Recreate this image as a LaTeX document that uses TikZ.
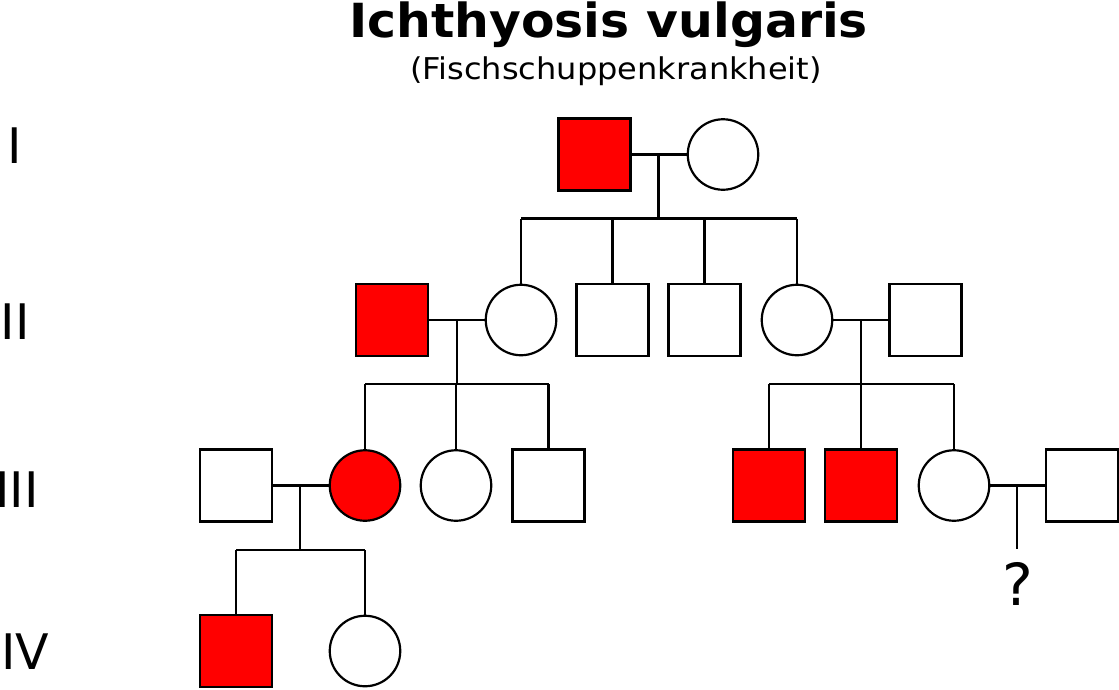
\documentclass[tikz,border=0pt]{standalone}
\usepackage{fontspec}
\usepackage{graphicx}
\setmainfont{DejaVu Sans}
\begin{document}
\begin{tikzpicture}[x=1pt,y=-1pt,
  male/.style={draw=black,line width=2.2pt,rectangle,minimum size=72pt,inner sep=0pt,fill=white},
  female/.style={draw=black,line width=2.2pt,circle,minimum size=70.5pt,inner sep=0pt,fill=white},
  aff/.style={fill=red},
  ln/.style={draw=black,line width=2.2pt},
  gen/.style={font=\fontsize{49}{49}\selectfont,inner sep=0pt,anchor=base}]
\useasboundingbox (0,0) rectangle (1119,689);
% title
\node[font=\fontsize{47}{47}\selectfont\bfseries,inner sep=0pt,anchor=base] (title) at (608.5,37) {\scalebox{1.04}[1]{Ichthyosis vulgaris}};
\node[font=\fontsize{30}{30}\selectfont,inner sep=0pt,anchor=base] (sub) at (616,79) {\scalebox{1.067}[1]{(Fischschuppenkrankheit)}};
% generation labels
\node[gen] (gI) at (15,163) {I};
\node[gen] (gII) at (15,339) {II};
\node[gen] (gIII) at (17,507) {III};
\node[gen] (gIV) at (25.5,669) {IV};
% generation I
\node[male,aff] (a1) at (594.5,154.5) {};
\node[female] (a2) at (723,154.5) {};
% generation II
\node[male,aff] (b1) at (392,320) {};
\node[female] (b2) at (521,320) {};
\node[male] (b3) at (612.5,320) {};
\node[male] (b4) at (704.5,320) {};
\node[female] (b5) at (797,320) {};
\node[male] (b6) at (925.5,320) {};
% generation III
\node[male] (c1) at (236,485.5) {};
\node[female,aff] (c2) at (365,485.5) {};
\node[female] (c3) at (456,485.5) {};
\node[male] (c4) at (548.5,485.5) {};
\node[male,aff] (c5) at (769,485.5) {};
\node[male,aff] (c6) at (861,485.5) {};
\node[female] (c7) at (954,485.5) {};
\node[male] (c8) at (1082,485.5) {};
% generation IV
\node[male,aff] (d1) at (236,651) {};
\node[female] (d2) at (365,651) {};
% question mark
\node[gen,font=\fontsize{58}{58}\selectfont] (q) at (1017.5,605) {?};
% marriages and sibships
\coordinate (mI) at (658.5,154.5);
\coordinate (sI) at (658.5,218.5);
\draw[ln] (a1.east) -- (a2.west);
\draw[ln] (mI) -- (sI);
\draw[ln] (b2.north|-sI) -- (b5.north|-sI);
\draw[ln] (b2.north|-sI) -- (b2.north);
\draw[ln] (b3.north|-sI) -- (b3.north);
\draw[ln] (b4.north|-sI) -- (b4.north);
\draw[ln] (b5.north|-sI) -- (b5.north);

\coordinate (mIIa) at (457,320);
\coordinate (sIIa) at (457,384);
\draw[ln] (b1.east) -- (b2.west);
\draw[ln] (mIIa) -- (sIIa);
\draw[ln] (c2.north|-sIIa) -- (c4.north|-sIIa);
\draw[ln] (c2.north|-sIIa) -- (c2.north);
\draw[ln] (c3.north|-sIIa) -- (c3.north);
\draw[ln] (c4.north|-sIIa) -- (c4.north);

\coordinate (mIIb) at (861,320);
\coordinate (sIIb) at (861,384);
\draw[ln] (b5.east) -- (b6.west);
\draw[ln] (mIIb) -- (sIIb);
\draw[ln] (c5.north|-sIIb) -- (c7.north|-sIIb);
\draw[ln] (c5.north|-sIIb) -- (c5.north);
\draw[ln] (c6.north|-sIIb) -- (c6.north);
\draw[ln] (c7.north|-sIIb) -- (c7.north);

\coordinate (mIIIa) at (300,485.5);
\coordinate (sIIIa) at (300,550);
\draw[ln] (c1.east) -- (c2.west);
\draw[ln] (mIIIa) -- (sIIIa);
\draw[ln] (d1.north|-sIIIa) -- (d2.north|-sIIIa);
\draw[ln] (d1.north|-sIIIa) -- (d1.north);
\draw[ln] (d2.north|-sIIIa) -- (d2.north);

\coordinate (mIIIb) at (1017,485.5);
\coordinate (sIIIb) at (1017,549);
\draw[ln] (c7.east) -- (c8.west);
\draw[ln] (mIIIb) -- (sIIIb);
\end{tikzpicture}
\end{document}
